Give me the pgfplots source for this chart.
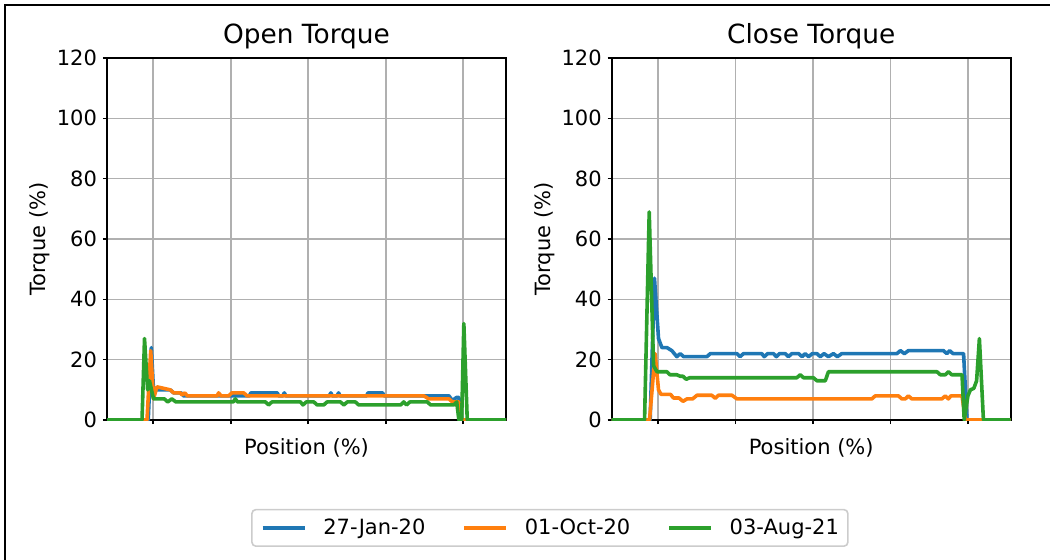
\documentclass[border=0pt]{standalone}
\usepackage{fontspec}
\setmainfont{DejaVu Sans}
\usepackage{pgfplots}
\pgfplotsset{compat=1.18}
\definecolor{tabblue}{HTML}{1F77B4}
\definecolor{taborange}{HTML}{FF7F0E}
\definecolor{tabgreen}{HTML}{2CA02C}
\definecolor{gridgray}{HTML}{B0B0B0}
\pgfplotsset{
  myax/.style={
    width=199.5pt, height=181pt, scale only axis,
    xmin=-14.9, xmax=113.8, ymin=0, ymax=120,
    xtick={0,25,50,75,100}, xticklabels={},
    ytick={0,20,40,60,80,100,120},
    grid=major,
    major grid style={color=gridgray, line width=0.8pt},
    axis line style={line width=1pt},
    tick align=outside, major tick length=2pt,
    tick style={black, line width=0.8pt},
    xtick pos=bottom, ytick pos=left,
    /pgf/number format/assume math mode=true,
    ticklabel style={font=\fontsize{10.5}{12}\selectfont},
    yticklabel style={xshift=0.5pt},
    label style={font=\fontsize{10.5}{12}\selectfont},
    xlabel={Position (\%)},
    ylabel={Torque (\%)},
    xlabel style={at={(axis description cs:0.5,-0.0939)}, anchor=base},
    ylabel style={at={(axis description cs:-0.1530,0.5)}, anchor=base},
    every axis title shift=0pt,
    title style={at={(axis description cs:0.5,1.0414)}, anchor=base, font=\fontsize{13.2}{15}\selectfont},
    every axis plot/.append style={line width=1.8pt, line join=round},
  }
}
\begin{document}
\begin{tikzpicture}
\draw[line width=1pt] (2.25pt,-2.25pt) rectangle (600pt,-320pt);
\begin{axis}[myax, at={(53.5pt,-210pt)}, anchor=south west, title={Open Torque},
  legend style={at={(axis description cs:1.110,-0.298)}, anchor=center,
    draw=black!20, line width=0.8pt, rounded corners=2pt, inner xsep=4.5pt, inner ysep=3pt,
    font=\fontsize{10.5}{12}\selectfont,
    nodes={inner xsep=0pt, inner ysep=1.5pt},
    /tikz/every odd column/.append style={column sep=8.4pt},
    /tikz/every even column/.append style={column sep=18.5pt}},
  legend columns=3,
  legend image code/.code={\draw[#1, line width=1.8pt] (0pt,0pt) -- (21pt,0pt);},
]
\addplot[tabblue] coordinates {(-15,0) (-1.6,0) (-0.6,24) (0.1,10) (1.2,10) (5.5,10) (6.6,9) (9.0,9) (9.8,8) (31,8) (31.5,9) (40,9) (40.5,8) (41.8,8) (42.3,9) (42.8,8) (56.8,8) (57.3,9) (57.8,8) (59.3,8) (59.8,9) (60.3,8) (68.8,8) (69.3,9) (74,9) (74.5,8) (95.4,8) (96.5,6.5) (97.9,7.5) (98.6,7.5) (99.2,0) (115,0)};
\addlegendentry{27-Jan-20}
\addplot[taborange] coordinates {(-15,0) (-2.0,0) (-0.8,23) (0.1,7) (1.2,11) (5.5,10) (6.6,9) (8.7,9) (9.3,8.3) (10.2,9) (11,8) (20.6,8) (21.1,9) (21.9,8) (24.3,8) (25.4,9) (29.2,9) (30.3,8) (87.3,8) (88.9,7) (95.4,7) (96.5,6) (98.6,6) (99.2,0) (115,0)};
\addlegendentry{01-Oct-20}
\addplot[tabgreen] coordinates {(-15,0) (-3.6,0) (-2.8,27) (-1.8,10) (-1.2,13) (0.1,7) (3.6,7) (4.7,6) (6.0,7) (7.3,6) (25.8,6) (26.5,7) (27.2,6) (36.2,6) (37.2,5) (38.3,6) (47.5,6) (48.3,5) (49.4,6) (51.8,6) (52.9,5) (55.0,5) (56.1,6) (60.4,6) (61.5,5) (62.6,6) (65.2,6) (66.3,5) (79.8,5) (80.8,6) (81.7,5) (82.8,6) (88.4,6) (89.5,5) (97.0,5) (97.9,6) (98.6,0) (99.5,0) (100.2,32) (101.3,0) (115,0)};
\addlegendentry{03-Aug-21}
\end{axis}
\begin{axis}[myax, at={(305.85pt,-210pt)}, anchor=south west, title={Close Torque}]
\addplot[tabblue] coordinates {(-15,0) (-2.5,0) (-1.1,47) (0.2,27) (1.3,24) (2.9,24) (4.5,23) (6.1,21) (7.2,22) (8.3,21) (15.8,21) (16.9,22) (25.5,22) (26.5,21) (27.6,22) (33.5,22) (34.3,21) (35.4,22) (37.3,22) (38.2,21) (39.2,22) (41.1,22) (42.1,21) (43.2,22) (45.4,22) (46.5,21) (47.5,22) (48.6,21) (49.8,22) (51.3,22) (52.4,21) (53.6,22) (55.0,21) (56.6,22) (57.9,21) (59.3,22) (77.1,22) (78.2,23) (79.5,22) (80.8,23) (92.1,23) (93.2,22) (94.1,23) (95.2,22) (98.6,22) (99.7,0) (115,0)};
\addplot[taborange] coordinates {(-15,0) (-2.7,0) (-0.9,22) (0.2,10) (1.0,8.5) (4.1,8.5) (5.0,7.3) (6.8,7.3) (8.1,6.2) (9.4,7) (11.2,7) (12.6,8.2) (17.4,8.2) (18.5,7.2) (19.5,8.2) (23.9,8.2) (25.5,7) (69.0,7) (70.1,8) (77.6,8) (78.7,7) (79.8,7) (80.8,8) (81.9,7) (91.6,7) (92.7,8) (93.7,7) (94.5,8) (98.1,8) (99.2,0) (115,0)};
\addplot[tabgreen] coordinates {(-15,0) (-4.3,0) (-2.8,69) (-1.4,18) (-0.3,16) (2.9,16) (3.9,15) (6.1,15) (7.2,14.5) (8.1,14.5) (9.1,13.5) (10.2,14) (44.8,14) (45.9,15) (47.0,14) (50.2,14) (51.3,13) (54.0,13) (55.0,16) (90.0,16) (91.1,15) (92.7,15) (93.7,16) (94.8,15) (98.1,15) (98.8,0) (100.0,8) (100.8,10) (101.9,10.5) (102.8,13) (103.7,27) (105.0,0) (115,0)};
\end{axis}
\pgfresetboundingbox
\path[use as bounding box] (0pt,0pt) rectangle (525pt,-279.5pt);
\end{tikzpicture}
\end{document}
